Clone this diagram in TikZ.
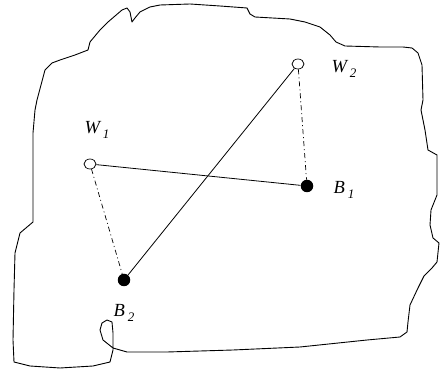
\documentclass[tikz,border=0pt]{standalone}
\usepackage{fontspec}
\setmainfont{Liberation Serif}
\usetikzlibrary{shapes.geometric}
\newcommand{\subsc}[1]{\raisebox{-0.28em}{\fontsize{13}{13}\selectfont #1}}
\begin{document}
\begin{tikzpicture}[x=1pt,y=-1pt,
  openpt/.style={draw,ellipse,minimum width=12pt,minimum height=10pt,inner sep=0pt,line width=0.7pt},
  fullpt/.style={circle,fill=black,minimum size=12.5pt,inner sep=0pt},
  lab/.style={font=\fontsize{18.5}{18.5}\selectfont\itshape,inner sep=0pt},
  dashdot/.style={line width=0.7pt,dash pattern=on 5pt off 3pt on 1pt off 3pt}]
\useasboundingbox (0,0) rectangle (440,371);
% outline
\draw[line width=0.9pt,line join=round]
 (52,63) -- (60,60) -- (75,55) -- (88,50) -- (90,42) -- (95,36) -- (100,30) -- (108,22)
 -- (115,16) -- (122,10) -- (127,8) -- (130,12) -- (132,22) -- (135,18) -- (140,12)
 -- (150,7) -- (160,5) -- (190,4) -- (220,6) -- (247,8) -- (250,14) -- (255,17)
 -- (290,19) -- (305,22) -- (320,27) -- (330,35) -- (336,42) -- (345,46) -- (380,47)
 -- (403,47) -- (412,48) -- (418,53) -- (422,65) -- (423,100) -- (421,110) -- (425,130)
 -- (428,150) -- (437,155) -- (437,195) -- (431,210) -- (430,225) -- (433,238)
 -- (439,243) -- (437,262) -- (432,268) -- (424,276) -- (418,288) -- (410,305)
 -- (408,322) -- (407,332) -- (400,337) -- (367,340) -- (300,347) -- (233,350)
 -- (167,352) -- (127,352) -- (113,348) -- (103,340) -- (100,330) -- (102,323)
 -- (107,320) -- (112,322) -- (113,333) -- (113,350) -- (110,362) -- (93,366)
 -- (60,368) -- (30,366) -- (14,362) -- (13,340) -- (14,290) -- (15,253) -- (20,233)
 -- (33,222) -- (33,190) -- (33,133) -- (35,110) -- (37,100) -- (45,70) -- cycle;
% points
\node[openpt] (w1) at (90,164) {};
\node[openpt] (w2) at (298,64) {};
\node[fullpt] (b1) at (307,186) {};
\node[fullpt] (b2) at (124,280) {};
% labels
\node[lab] (lw1) at (97,130) {W\,\subsc{1}};
\node[lab] (lw2) at (344,69) {W\,\subsc{2}};
\node[lab] (lb1) at (344,190) {B\,\subsc{1}};
\node[lab] (lb2) at (124,313) {B\,\subsc{2}};
% connectors
\draw[line width=0.8pt] (w1) -- (b1);
\draw[line width=0.8pt] (w2) -- (b2);
\draw[dashdot] (w1) -- (b2);
\draw[dashdot] (w2) -- (b1);
\end{tikzpicture}
\end{document}
